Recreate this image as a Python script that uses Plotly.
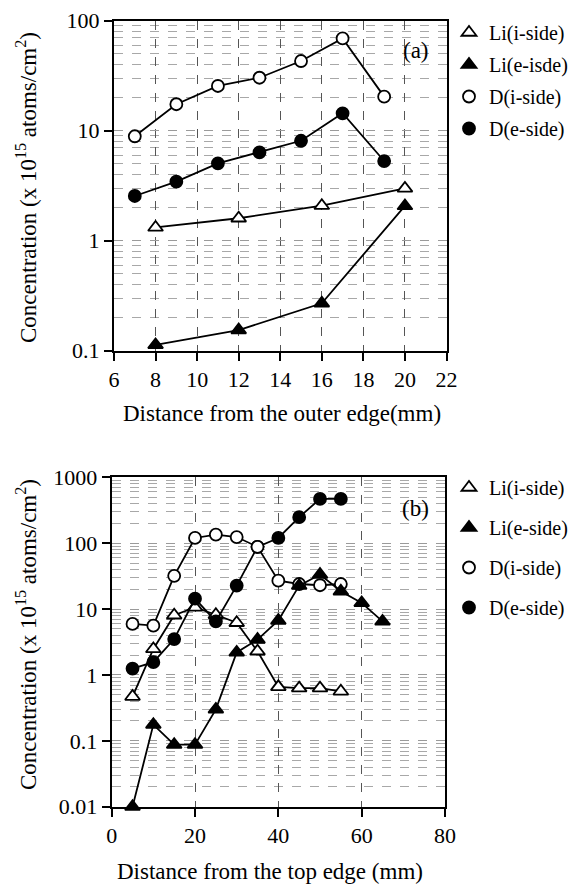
import plotly.graph_objects as go

# ---------------- data: panel (a) ----------------
a_li_i_x = [8, 12, 16, 20]
a_li_i_y = [1.32, 1.6, 2.08, 2.99]
a_li_e_x = [8, 12, 16, 20]
a_li_e_y = [0.113, 0.154, 0.27, 2.07]
a_d_i_x = [7, 9, 11, 13, 15, 17, 19]
a_d_i_y = [8.9, 17.4, 25.5, 30.3, 43, 69, 20.4]
a_d_e_x = [7, 9, 11, 13, 15, 17, 19]
a_d_e_y = [2.55, 3.44, 5.05, 6.35, 8.1, 14.4, 5.3]

# ---------------- data: panel (b) ----------------
b_li_i_x = [5, 10, 15, 20, 25, 30, 35, 40, 45, 50, 55]
b_li_i_y = [0.47, 2.48, 8.05, 10.6, 8.2, 6.2, 2.29, 0.66, 0.63, 0.63, 0.565]
b_li_e_x = [5, 10, 15, 20, 25, 30, 35, 40, 45, 50, 55, 60, 65]
b_li_e_y = [0.01, 0.176, 0.0875, 0.0875, 0.30, 2.2, 3.44, 6.7, 22.7, 33.4, 18.6, 12.4, 6.5]
b_d_i_x = [5, 10, 15, 20, 25, 30, 35, 40, 45, 50, 55]
b_d_i_y = [5.95, 5.6, 32, 120, 135, 124, 88, 27, 24, 23, 24]
b_d_e_x = [5, 10, 15, 20, 25, 30, 35, 40, 45, 50, 55]
b_d_e_y = [1.25, 1.56, 3.5, 14.4, 6.5, 22.7, 88, 120, 248, 470, 470]

# ---------------- labels ----------------
a_legend_names = ["Li(i-side)", "Li(e-isde)", "D(i-side)", "D(e-side)"]
b_legend_names = ["Li(i-side)", "Li(e-side)", "D(i-side)", "D(e-side)"]
a_xticks = [6, 8, 10, 12, 14, 16, 18, 20, 22]
a_yticks = [0.1, 1, 10, 100]
a_ytext = ["0.1", "1", "10", "100"]
b_xticks = [0, 20, 40, 60, 80]
b_yticks = [0.01, 0.1, 1, 10, 100, 1000]
b_ytext = ["0.01", "0.1", "1", "10", "100", "1000"]
ytitle = "Concentration (x 10<sup>15</sup> atoms/cm<sup>2</sup>)"
a_xtitle = "Distance from the outer edge(mm)"
b_xtitle = "Distance from the top edge (mm)"

FONT = "Liberation Serif"
W, H = 568, 885

styles = {
    "li_i": dict(symbol="triangle-up", color="white"),
    "li_e": dict(symbol="triangle-up", color="black"),
    "d_i": dict(symbol="circle", color="white"),
    "d_e": dict(symbol="circle", color="black"),
}

fig = go.Figure()


def msize(key):
    return 12 if key.startswith("d_") else 13


def add_series(x, y, key, xa, ya):
    st = styles[key]
    fig.add_trace(go.Scatter(
        x=x, y=y, mode="lines+markers", xaxis=xa, yaxis=ya, showlegend=False,
        line=dict(color="black", width=1.8),
        marker=dict(symbol=st["symbol"], size=msize(key), color=st["color"],
                    line=dict(color="black", width=1.8)),
        cliponaxis=False,
    ))


def add_legend_item(name, key, xa, ya, legend, rank):
    st = styles[key]
    fig.add_trace(go.Scatter(
        x=[None], y=[None], mode="markers", name=name, xaxis=xa, yaxis=ya,
        legend=legend, legendgroup=legend + key, legendrank=rank,
        marker=dict(symbol=st["symbol"], size=msize(key), color=st["color"],
                    line=dict(color="black", width=1.8)),
    ))


# panel (a)
add_series(a_li_i_x, a_li_i_y, "li_i", "x", "y")
add_series(a_d_e_x, a_d_e_y, "d_e", "x", "y")
add_series(a_d_i_x, a_d_i_y, "d_i", "x", "y")
add_series(a_li_e_x, a_li_e_y, "li_e", "x", "y")
# panel (b)
add_series(b_li_i_x, b_li_i_y, "li_i", "x2", "y2")
add_series(b_d_e_x, b_d_e_y, "d_e", "x2", "y2")
add_series(b_d_i_x, b_d_i_y, "d_i", "x2", "y2")
add_series(b_li_e_x, b_li_e_y, "li_e", "x2", "y2")

for i, (n, k) in enumerate(zip(a_legend_names, ["li_i", "li_e", "d_i", "d_e"])):
    add_legend_item(n, k, "x", "y", "legend", i + 1)
for i, (n, k) in enumerate(zip(b_legend_names, ["li_i", "li_e", "d_i", "d_e"])):
    add_legend_item(n, k, "x2", "y2", "legend2", i + 1)

axis_common = dict(
    showline=True, linecolor="black", linewidth=2.2, mirror=True,
    ticks="outside", ticklen=8, tickwidth=2, tickcolor="black",
    tickfont=dict(family=FONT, size=22, color="black"),
    zeroline=False, automargin=False,
)
xgrid = dict(showgrid=True, gridcolor="#555555", gridwidth=1, griddash="dash")
ygrid = dict(showgrid=True, gridcolor="#9a9a9a", gridwidth=1, griddash="dash",
             minor=dict(showgrid=True, gridcolor="#a8a8a8", gridwidth=1, griddash="dash",
                        dtick="D1", ticks=""))

fig.update_layout(
    width=W, height=H, margin=dict(l=0, r=0, t=0, b=0, pad=0, autoexpand=False),
    paper_bgcolor="white", plot_bgcolor="white",
    font=dict(family=FONT, size=20, color="black"),
    xaxis=dict(domain=[114 / W, 446.5 / W], range=[6, 22], tickvals=a_xticks,
               anchor="y", **axis_common, **xgrid),
    yaxis=dict(domain=[1 - 350.7 / H, 1 - 20.7 / H], type="log", range=[-1, 2],
               tickvals=a_yticks, ticktext=a_ytext, anchor="x", **axis_common, **ygrid),
    xaxis2=dict(domain=[111.7 / W, 445 / W], range=[0, 80], tickvals=b_xticks,
                anchor="y2", **axis_common, **xgrid),
    yaxis2=dict(domain=[1 - 806.7 / H, 1 - 477.3 / H], type="log", range=[-2, 3],
                tickvals=b_yticks, ticktext=b_ytext, anchor="x2", **axis_common, **ygrid),
    legend=dict(x=449 / W, y=1 - 13 / H, xanchor="left", yanchor="top",
                bgcolor="rgba(0,0,0,0)", tracegroupgap=3,
                font=dict(family=FONT, size=20, color="black")),
    legend2=dict(x=449 / W, y=1 - 468 / H, xanchor="left", yanchor="top",
                 bgcolor="rgba(0,0,0,0)", tracegroupgap=11,
                 font=dict(family=FONT, size=20, color="black")),
)


def ann(text, xpx, ypx, size, angle=0):
    return dict(text=text, x=xpx / W, y=1 - ypx / H, xref="paper", yref="paper",
                xanchor="center", yanchor="middle", textangle=angle,
                showarrow=False, font=dict(family=FONT, size=size, color="black"))


annotations = [
    ann("(a)", 416, 51, 23),
    ann("(b)", 415, 509, 23),
    ann(a_xtitle, 281.5, 413, 23),
    ann(b_xtitle, 270, 871, 23),
    ann(ytitle, 26, 188, 23, -90),
    ann(ytitle, 26, 635, 23, -90),
]
fig.update_layout(annotations=annotations)

fig.write_html("out.html")
